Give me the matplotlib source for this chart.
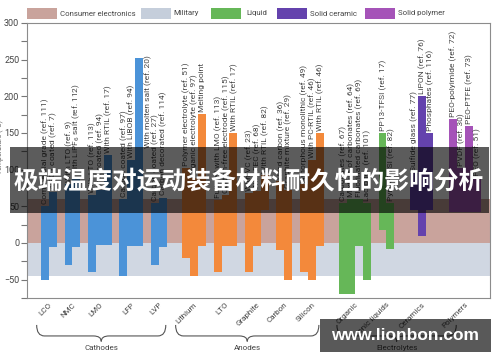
import matplotlib
matplotlib.use('Agg')
import matplotlib.pyplot as plt
from matplotlib.patches import Rectangle, PathPatch
from matplotlib.path import Path
import matplotlib.transforms as mtransforms
from matplotlib.ticker import MultipleLocator

plt.rcParams['font.family'] = ['Roboto', 'DejaVu Sans']

# ---------------- data ----------------
groups = ['LCO', 'NMC', 'LMO', 'LFP', 'LVP', 'Lithium', 'LTO', 'Graphite', 'Carbon', 'Silicon',
          'Organic', 'Ionic liquids', 'Ceramics', 'Polymers']
group_kind = ['cathode'] * 5 + ['anode'] * 5 + ['liquid', 'liquid', 'ceramic', 'polymer']
categories = ['Cathodes', 'Anodes', 'Electrolytes']
category_members = [(0, 4), (5, 9), (10, 13)]

bar_labels = [
    ['Commercial grade (ref. 111)', 'AlPO$_4$ coated (ref. 7)'],
    ['With LTO (ref. 9)', 'With LiPF$_6$ salt (ref. 112)'],
    ['With LTO (ref. 113)', 'ZnO coated (ref. 94)', 'With RTIL (ref. 17)'],
    ['Carbon coated (ref. 97)', 'With LiBOB (ref. 94)', 'With molten salt (ref. 20)'],
    ['Carbon coated (ref. 27)', 'Carbon decorated (ref. 114)'],
    ['Polymer electrolyte (ref. 51)', 'Organic electrolyte (ref. 97)', 'Melting point'],
    ['Full cell with LMO (ref. 113)', 'Carbon-free electrode (ref. 115)', 'With RTIL (ref. 17)'],
    ['With VC (ref. 23)', 'With FEC (ref. 68)', 'With RTIL (ref. 82)'],
    ['Hard carbon (ref. 36)', 'Graphite mixture (ref. 29)'],
    ['Amorphous monolithic (ref. 49)', 'With PC-RTIL (ref. 46)', 'With RTIL (ref. 46)'],
    ['Carbonates (ref. 67)', 'Mixture of carbonates (ref. 64)', 'Fluorinated carbonates (ref. 69)',
     'Lactones (ref. 101)'],
    ['PP13-TFSI (ref. 17)', 'Pyr14-TFSI (ref. 82)'],
    ['Sulfide glass (ref. 77)', 'LiPON (ref. 76)', 'Phosphates (ref. 116)'],
    ['PEO-polyimide (ref. 72)', 'PVDF (ref. 30)', 'PEO-PTFE (ref. 73)', 'PEO (ref. 51)'],
]
bar_low = [
    [-50, -5], [-30, -5], [-40, -3, -3], [-45, -4, -4], [-30, -5],
    [-20, -45, -4], [-40, -4, -4], [-40, -4, 45], [-10, -50], [-40, -50, -4],
    [-70, -70, -4, -50], [18, -8], [45, 10, 45], [42, 42, 42, 42],
]
bar_high = [
    [50, 70], [80, 88], [65, 72, 120], [60, 113, 252], [55, 62],
    [102, 89, 176], [59, 66, 150], [68, 71, 93], [85, 72], [80, 113, 150],
    [55, 60, 60, 55], [150, 55], [95, 200, 150], [169, 102, 160, 89],
]
consumer_range = (0, 60)
military_range = (-45, 0)
y_ticks = [-50, 0, 50, 100, 150, 200, 250, 300]
legend_names = ['Consumer electronics', 'Military', 'Liquid', 'Solid ceramic', 'Solid polymer']

# ---------------- styles / layout ----------------
kind_color = {'cathode': '#4b93d8', 'anode': '#f3893b', 'liquid': '#66b758',
              'ceramic': '#6442ad', 'polymer': '#a553b8'}
band_pink = '#c9a39c'
band_grey = '#d0d7e2'
legend_colors = [band_pink, '#c5cedb', '#66b758', '#6442ad', '#a553b8']
gap_before = [0, 1, 1, 1, 1, 2, 1, 1, 1, 1, 2, 1, 2, 2]
beside_labels = {(3, 2)}
label_fs = 6.0

W, H = 500, 362
fig = plt.figure(figsize=(W / 100, H / 100), dpi=100)
ax = fig.add_axes([27 / W, 1 - 298 / H, (490 - 27) / W, (298 - 23) / H])


def fx(px):
    return px / W


def fy(py):
    return 1 - py / H


ax.axhspan(*military_range, color=band_grey, zorder=0, lw=0)
ax.axhspan(*consumer_range, color=band_pink, zorder=0, lw=0)

slot = 0
centers = []
for g, name in enumerate(groups):
    slot += gap_before[g]
    start = slot
    n = len(bar_labels[g])
    xs = [start + i for i in range(n)]
    lows = bar_low[g]
    highs = bar_high[g]
    heights = [h - l for h, l in zip(highs, lows)]
    ax.bar(xs, heights, bottom=lows, width=1.0, align='edge',
           color=kind_color[group_kind[g]], lw=0, zorder=2)
    for i, lab in enumerate(bar_labels[g]):
        if (g, i) in beside_labels:
            ax.annotate(lab, (xs[i] + 1, highs[i]), xytext=(3.6, 2), textcoords='offset points',
                        rotation=90, ha='center', va='top', fontsize=label_fs, color='#444444',
                        zorder=3)
        else:
            ax.annotate(lab, (xs[i] + 0.5, highs[i]), xytext=(0.3, 1.5), textcoords='offset points',
                        rotation=90, ha='center', va='bottom', fontsize=label_fs, color='#444444',
                        zorder=3)
    slot = start + n
    centers.append(start + n / 2)

ax.set_xlim(-1.78, 57.2)
ax.set_ylim(-75, 300)
ax.set_yticks(y_ticks)
ax.yaxis.set_minor_locator(MultipleLocator(25))
ax.tick_params(axis='y', which='both', direction='out', length=4, width=0.8, color='#777777',
               labelsize=6.5, labelcolor='#444444', pad=1.5)
ax.set_xticks(centers)
ax.set_xticklabels(groups, rotation=45, ha='right', rotation_mode='anchor', fontsize=5.8,
                   color='#444444')
ax.tick_params(axis='x', length=0, pad=2.5)
for sp in ax.spines.values():
    sp.set_color('#8c8c8c')
    sp.set_linewidth(0.8)

ax.set_ylabel('Temperature (°C)', fontsize=5.0, color='#666666')
ax.yaxis.set_label_coords(-0.05, 0.55)

# braces for categories
trans = mtransforms.blended_transform_factory(ax.transData, ax.transAxes)
brace_pad = {0: (-1.55, 0.9), 1: (-2.35, 0.9), 2: (-2.3, -1.1)}
for c, (a, b) in enumerate(category_members):
    x0 = centers[a] + brace_pad[c][0]
    x1 = centers[b] + brace_pad[c][1]
    xc = (x0 + x1) / 2
    yt, ym, yb = -0.098, -0.138, -0.158
    r = 1.0
    verts = [(x0, yt), (x0, ym), (x0 + r, ym), (x0 + r, ym),
             (xc - r, ym), (xc, ym), (xc, yb),
             (xc, ym), (xc + r, ym), (x1 - r, ym),
             (x1 - r, ym), (x1, ym), (x1, yt)]
    codes = [Path.MOVETO, Path.CURVE3, Path.CURVE3, Path.LINETO,
             Path.LINETO, Path.CURVE3, Path.CURVE3,
             Path.CURVE3, Path.CURVE3, Path.LINETO,
             Path.LINETO, Path.CURVE3, Path.CURVE3]
    pp = PathPatch(Path(verts, codes), transform=trans, fill=False, ec='#555555', lw=0.8,
                   clip_on=False)
    ax.add_patch(pp)
    ax.text(xc, -0.172, categories[c], transform=trans, ha='center', va='top', fontsize=5.8,
            color='#444444')

# legend along the top
leg_px = [(27, 60), (141, 173), (211, 246), (277, 310), (365, 398)]
for (px0, tx), col, name in zip(leg_px, legend_colors, legend_names):
    fig.add_artist(Rectangle((fx(px0), fy(19)), 30 / W, 11 / H, transform=fig.transFigure,
                             color=col, lw=0))
    fig.text(fx(tx), fy(13.5), name, ha='left', va='center', fontsize=5.6, color='#444444')

# overlay banner
fig.add_artist(Rectangle((fx(10), fy(213)), (489 - 10) / W, 66 / H, transform=fig.transFigure,
                         color='black', alpha=0.64, lw=0, zorder=10))
fig.text(fx(249), fy(181), '极端温度对运动装备材料耐久性的影响分析', ha='center', va='center',
         fontsize=17.8, color='white', fontweight='bold',
         family=['Noto Sans CJK SC', 'DejaVu Sans'], zorder=11)

# watermark box
fig.add_artist(Rectangle((fx(320), fy(352)), 171 / W, 33 / H, transform=fig.transFigure,
                         color='black', alpha=0.65, lw=0, zorder=10))
fig.text(fx(405), fy(335.5), 'www.lionbon.com', ha='center', va='center', fontsize=12.5,
         color='white', fontweight='bold', family=['Liberation Sans', 'DejaVu Sans'], zorder=11)

fig.savefig('out.png', dpi=100)
